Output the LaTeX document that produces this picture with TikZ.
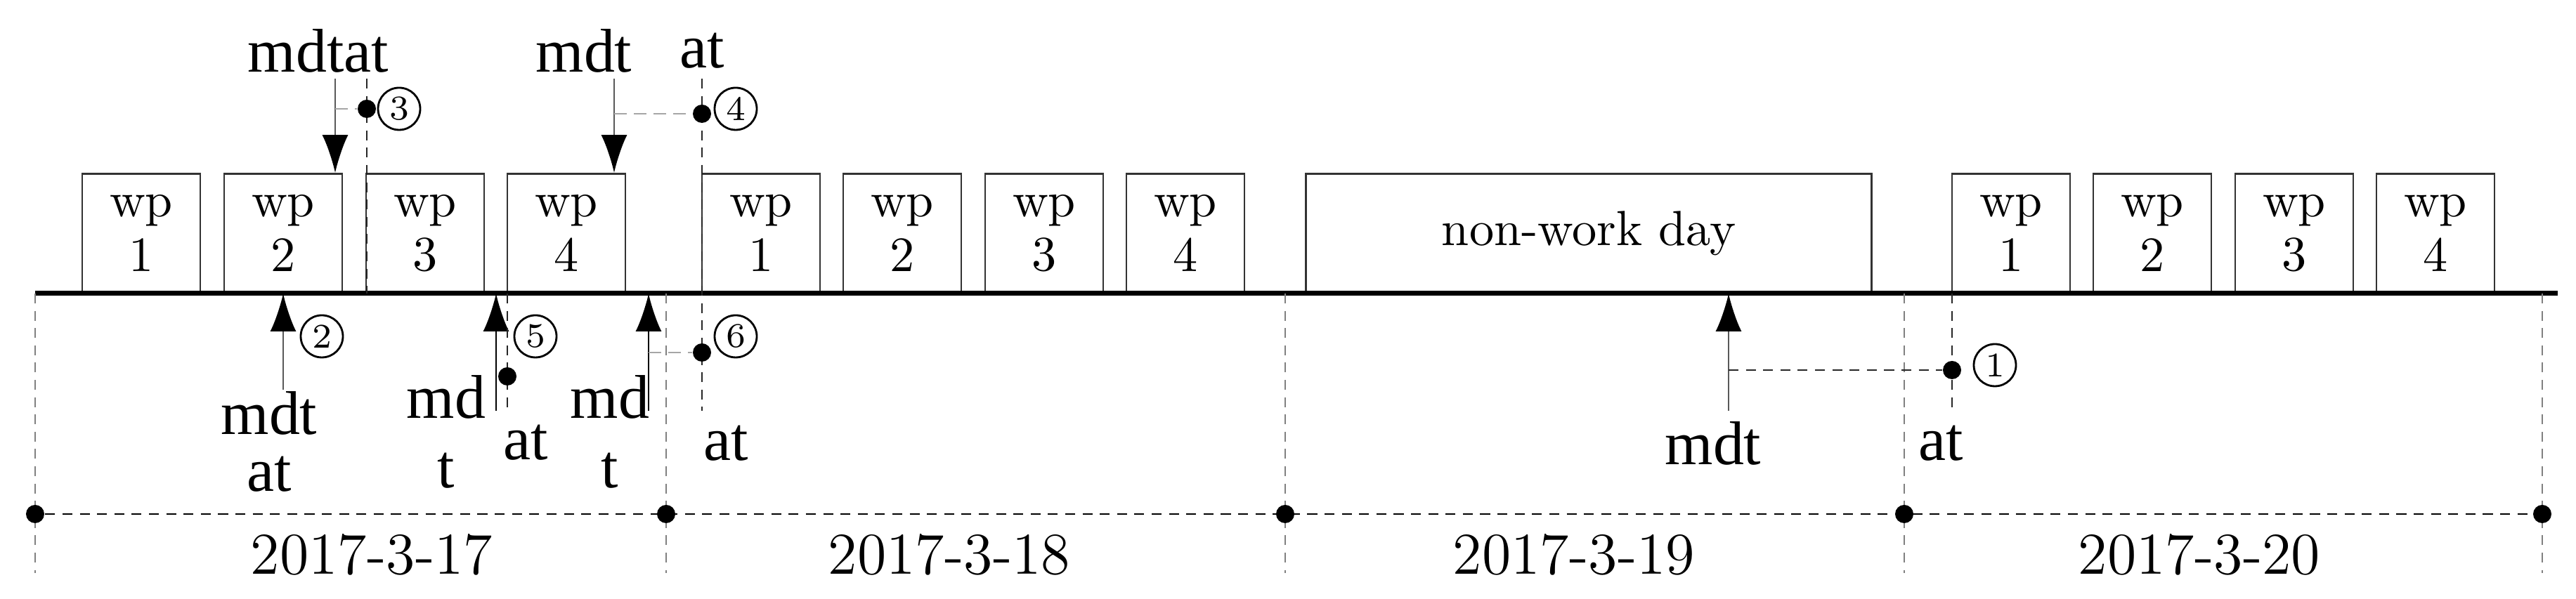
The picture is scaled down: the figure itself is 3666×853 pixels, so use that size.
\documentclass[tikz,border=0pt]{standalone}
\usepackage{fontspec}
\usepackage{tikz}
\usetikzlibrary{positioning,arrows.meta}
\newfontfamily\lblfont{Liberation Serif}

\tikzset{
  wpbox/.style={draw=black!80, fill=white, anchor=south, align=center, inner sep=0pt,
    minimum width=8.4mm, minimum height=8.45mm, font=\fontsize{10}{11}\selectfont},
  lbl/.style={inner sep=0pt, align=center, font=\lblfont\fontsize{12.5}{11.5}\selectfont},
  lbltall/.style={lbl, font=\lblfont\fontsize{12.5}{14}\selectfont},
  datelbl/.style={inner sep=0pt, font=\fontsize{12}{12}\selectfont},
  num/.style={circle, draw, thin, inner sep=0pt, minimum size=3mm, font=\fontsize{7}{7}\selectfont},
  evdot/.style={circle, fill, inner sep=0pt, minimum size=1.3mm},
  evup/.style={black!65, -{Latex[length=2.7mm, width=1.85mm, color=black]}},
  guide/.style={black!50, dash pattern=on 2pt off 1.5pt},
  vguide/.style={black!85, dash pattern=on 2pt off 1.5pt},
  link/.style={black!35, dash pattern=on 2.5pt off 1.5pt},
}

\begin{document}
\begin{tikzpicture}[x=0.05mm, y=0.05mm, >=Latex]
    \useasboundingbox (0,0) rectangle (3666,853);

    % work periods
    \foreach \x [count=\i] in {201,403,605,806}
        \node[wpbox] (da\i) at (\x,435) {wp\\\i};
    \foreach \x [count=\i] in {1083,1284,1486,1687}
        \node[wpbox] (db\i) at (\x,435) {wp\\\i};
    \node[wpbox, minimum width=40.25mm] (nwd) at (2261,435) {non-work day};
    \foreach \x [count=\i] in {2862,3063,3265,3466}
        \node[wpbox] (dd\i) at (\x,435) {wp\\\i};

    % time axis
    \coordinate (bl) at (50,435);
    \coordinate (br) at (3640,435);
    \draw[line width=1pt] (bl) -- (br);

    % days
    \foreach \x [count=\i] in {50,948,1829,2710,3618} {
        \coordinate (t\i) at (\x,435);
        \coordinate (b\i) at (\x,37);
        \draw[guide] (t\i) -- (b\i);
        \node[evdot] (p\i) at (\x,121) {};
    }
    \draw[black, dash pattern=on 2pt off 1.5pt] (p1) -- (p5);
    \node[datelbl] (d17) at (529,63) {2017-3-17};
    \node[datelbl] (d18) at (1351,63) {2017-3-18};
    \node[datelbl] (d19) at (2240,63) {2017-3-19};
    \node[datelbl] (d20) at (3130,63) {2017-3-20};

    % case 2
    \coordinate (e2) at (403,298);
    \draw[evup] (e2) -- (da2.south);
    \node[num] (n2) at (458,374) {2};
    \node[lbl] (l2) at (383,224) {mdt\\at};

    % case 3
    \node[lbl] (l3) at (453,781) {mdtat};
    \coordinate (e3) at (477,741);
    \coordinate (a3) at (522,741);
    \coordinate (a3b) at (522,435);
    \draw[evup] (e3) -- (e3 |- da2.north);
    \draw[vguide] (a3) -- (a3b);
    \node[evdot] (q3) at (522,698) {};
    \draw[link] (e3 |- q3) -- (q3);
    \node[num] (n3) at (568,698) {3};

    % case 4 and 6
    \node[lbl] (l4) at (831,781) {mdt};
    \node[lbl] (l4a) at (999,781) {at};
    \coordinate (e4) at (874,741);
    \coordinate (a4) at (999,741);
    \coordinate (a4b) at (999,268);
    \draw[evup] (e4) -- (e4 |- da4.north);
    \draw[vguide] (a4) -- (a4b);
    \node[evdot] (q4) at (999,691) {};
    \node[evdot] (q6) at (999,351) {};
    \draw[link] (e4 |- q4) -- (q4);
    \node[num] (n4) at (1047,698) {4};
    \node[num] (n6) at (1047,374) {6};
    \coordinate (e6) at (923,268);
    \draw[evup, black] (e6) -- (e6 |- bl);
    \draw[link] (e6 |- q6) -- (q6);
    \node[lbltall] (l6) at (868,238) {md\\t};
    \node[lbl] (l6a) at (1033,222) {at};

    % case 5
    \coordinate (e5) at (706,268);
    \coordinate (a5) at (722,268);
    \draw[evup, black] (e5) -- (e5 |- bl);
    \draw[vguide] (a5 |- bl) -- (a5);
    \node[evdot] (q5) at (722,317) {};
    \node[num] (n5) at (762,374) {5};
    \node[lbltall] (l5) at (635,238) {md\\t};
    \node[lbl] (l5a) at (748,223) {at};

    % case 1
    \coordinate (e1) at (2460,268);
    \coordinate (a1) at (2778,268);
    \draw[evup] (e1) -- (e1 |- bl);
    \draw[vguide] (a1 |- bl) -- (a1);
    \node[evdot] (q1) at (2778,326) {};
    \draw[vguide] (e1 |- q1) -- (q1);
    \node[num] (n1) at (2839,333) {1};
    \node[lbl] (l1) at (2438,222) {mdt};
    \node[lbl] (l1a) at (2762,222) {at};
\end{tikzpicture}
\end{document}
